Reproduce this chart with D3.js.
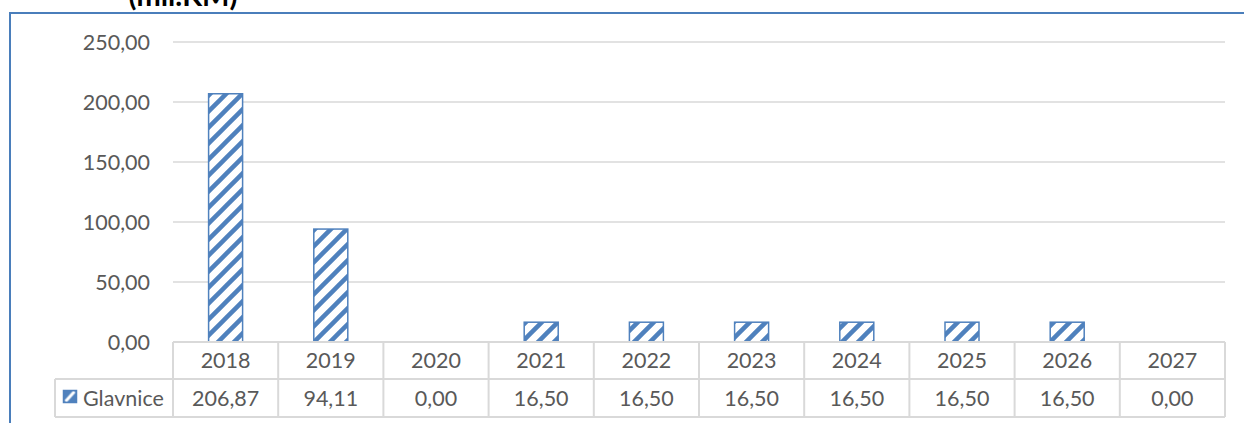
<!DOCTYPE html>
<html>
<head>
<meta charset="utf-8">
<script src="https://cdn.jsdelivr.net/npm/d3@7"></script>
<style>
  html, body { margin: 0; padding: 0; background: #fff; }
  svg { display: block; }
  text { font-family: Lato, "Open Sans", sans-serif; }
</style>
</head>
<body>
<svg id="chart" width="1244" height="423"></svg>
<script>
const categories = ["2018", "2019", "2020", "2021", "2022", "2023", "2024", "2025", "2026", "2027"];
const values = [206.87, 94.11, 0.00, 16.50, 16.50, 16.50, 16.50, 16.50, 16.50, 0.00];
const seriesName = "Glavnice";
const yTicks = [0, 50, 100, 150, 200, 250];
const title = "(mil.KM)";

const fmt = v => v.toFixed(2).replace(".", ",");

const svg = d3.select("#chart");
const plot = { left: 173, right: 1225, top: 42, bottom: 342 };
const blue = "#4f81bd";
const grid = "#d9d9d9";
const textCol = "#595959";
const fs = 21.5;

// pattern
const defs = svg.append("defs");
const pat = defs.append("pattern")
  .attr("id", "hatch").attr("patternUnits", "userSpaceOnUse")
  .attr("width", 16).attr("height", 16);
pat.append("rect").attr("width", 16).attr("height", 16).attr("fill", "#fff");
pat.append("path")
  .attr("d", "M-4,4 L4,-4 M0,16 L16,0 M12,20 L20,12")
  .attr("stroke", blue).attr("stroke-width", 4.5);

// legend key: mostly blue with a white diagonal
const patS = defs.append("pattern")
  .attr("id", "hatchS").attr("patternUnits", "userSpaceOnUse")
  .attr("x", 63.5).attr("y", 390.5)
  .attr("width", 13).attr("height", 12);
patS.append("rect").attr("width", 13).attr("height", 12).attr("fill", blue);
patS.append("path")
  .attr("d", "M2,11 L11,1")
  .attr("stroke", "#fff").attr("stroke-width", 3);

// outer border (top + left)
svg.append("path")
  .attr("d", "M10,423 L10,13 L1244,13")
  .attr("fill", "none").attr("stroke", "#4a7ebb").attr("stroke-width", 2);

// title
svg.append("text")
  .attr("x", 183).attr("y", 6)
  .attr("text-anchor", "middle")
  .attr("font-size", 29).attr("font-weight", "bold").attr("fill", "#000")
  .text(title);

const x = d3.scaleBand().domain(categories).range([plot.left, plot.right]).paddingInner(0).paddingOuter(0);
const y = d3.scaleLinear().domain([0, 250]).range([plot.bottom, plot.top]);

// gridlines
svg.append("g").selectAll("line").data(yTicks).join("line")
  .attr("x1", plot.left).attr("x2", plot.right)
  .attr("y1", d => y(d)).attr("y2", d => y(d))
  .attr("stroke", grid).attr("stroke-width", 1.5);

// y labels
svg.append("g").selectAll("text").data(yTicks).join("text")
  .attr("x", 150).attr("y", d => y(d))
  .attr("dy", "0.35em").attr("text-anchor", "end")
  .attr("font-size", fs).attr("fill", textCol)
  .text(d => fmt(d));

// bars
const barW = 34;
svg.append("g").selectAll("rect").data(categories.map((c, i) => ({ c, v: values[i] })).filter(d => d.v > 0))
  .join("rect")
  .attr("x", d => x(d.c) + x.bandwidth() / 2 - barW / 2)
  .attr("y", d => y(d.v))
  .attr("width", barW)
  .attr("height", d => y(0) - y(d.v))
  .attr("fill", "url(#hatch)")
  .attr("stroke", blue).attr("stroke-width", 1.5);

// data table
const row1Top = 342, row2Top = 379, row2Bot = 417, legLeft = 55;
const tg = svg.append("g").attr("stroke", grid).attr("stroke-width", 2).attr("fill", "none");
tg.append("line").attr("x1", plot.left).attr("x2", plot.right).attr("y1", row1Top).attr("y2", row1Top);
tg.append("line").attr("x1", legLeft).attr("x2", plot.right).attr("y1", row2Top).attr("y2", row2Top);
tg.append("line").attr("x1", legLeft).attr("x2", plot.right).attr("y1", row2Bot).attr("y2", row2Bot);
tg.append("line").attr("x1", legLeft).attr("x2", legLeft).attr("y1", row2Top).attr("y2", row2Bot);
tg.selectAll("line.v").data(categories.concat(["end"])).join("line")
  .attr("class", "v")
  .attr("x1", d => d === "end" ? plot.right : x(d))
  .attr("x2", d => d === "end" ? plot.right : x(d))
  .attr("y1", row1Top).attr("y2", row2Bot);

svg.append("g").selectAll("text").data(categories).join("text")
  .attr("x", d => x(d) + x.bandwidth() / 2).attr("y", (row1Top + row2Top) / 2)
  .attr("dy", "0.35em").attr("text-anchor", "middle")
  .attr("font-size", fs).attr("fill", textCol)
  .text(d => d);

svg.append("g").selectAll("text").data(categories.map((c, i) => ({ c, v: values[i] }))).join("text")
  .attr("x", d => x(d.c) + x.bandwidth() / 2).attr("y", (row2Top + row2Bot) / 2)
  .attr("dy", "0.35em").attr("text-anchor", "middle")
  .attr("font-size", fs).attr("fill", textCol)
  .text(d => fmt(d.v));

// legend key + name
svg.append("rect").attr("x", 63.5).attr("y", 390.5).attr("width", 13).attr("height", 12)
  .attr("fill", "url(#hatchS)").attr("stroke", blue).attr("stroke-width", 1.5);
svg.append("text").attr("x", 83).attr("y", (row2Top + row2Bot) / 2)
  .attr("dy", "0.35em").attr("font-size", fs).attr("fill", textCol)
  .text(seriesName);
</script>
</body>
</html>
